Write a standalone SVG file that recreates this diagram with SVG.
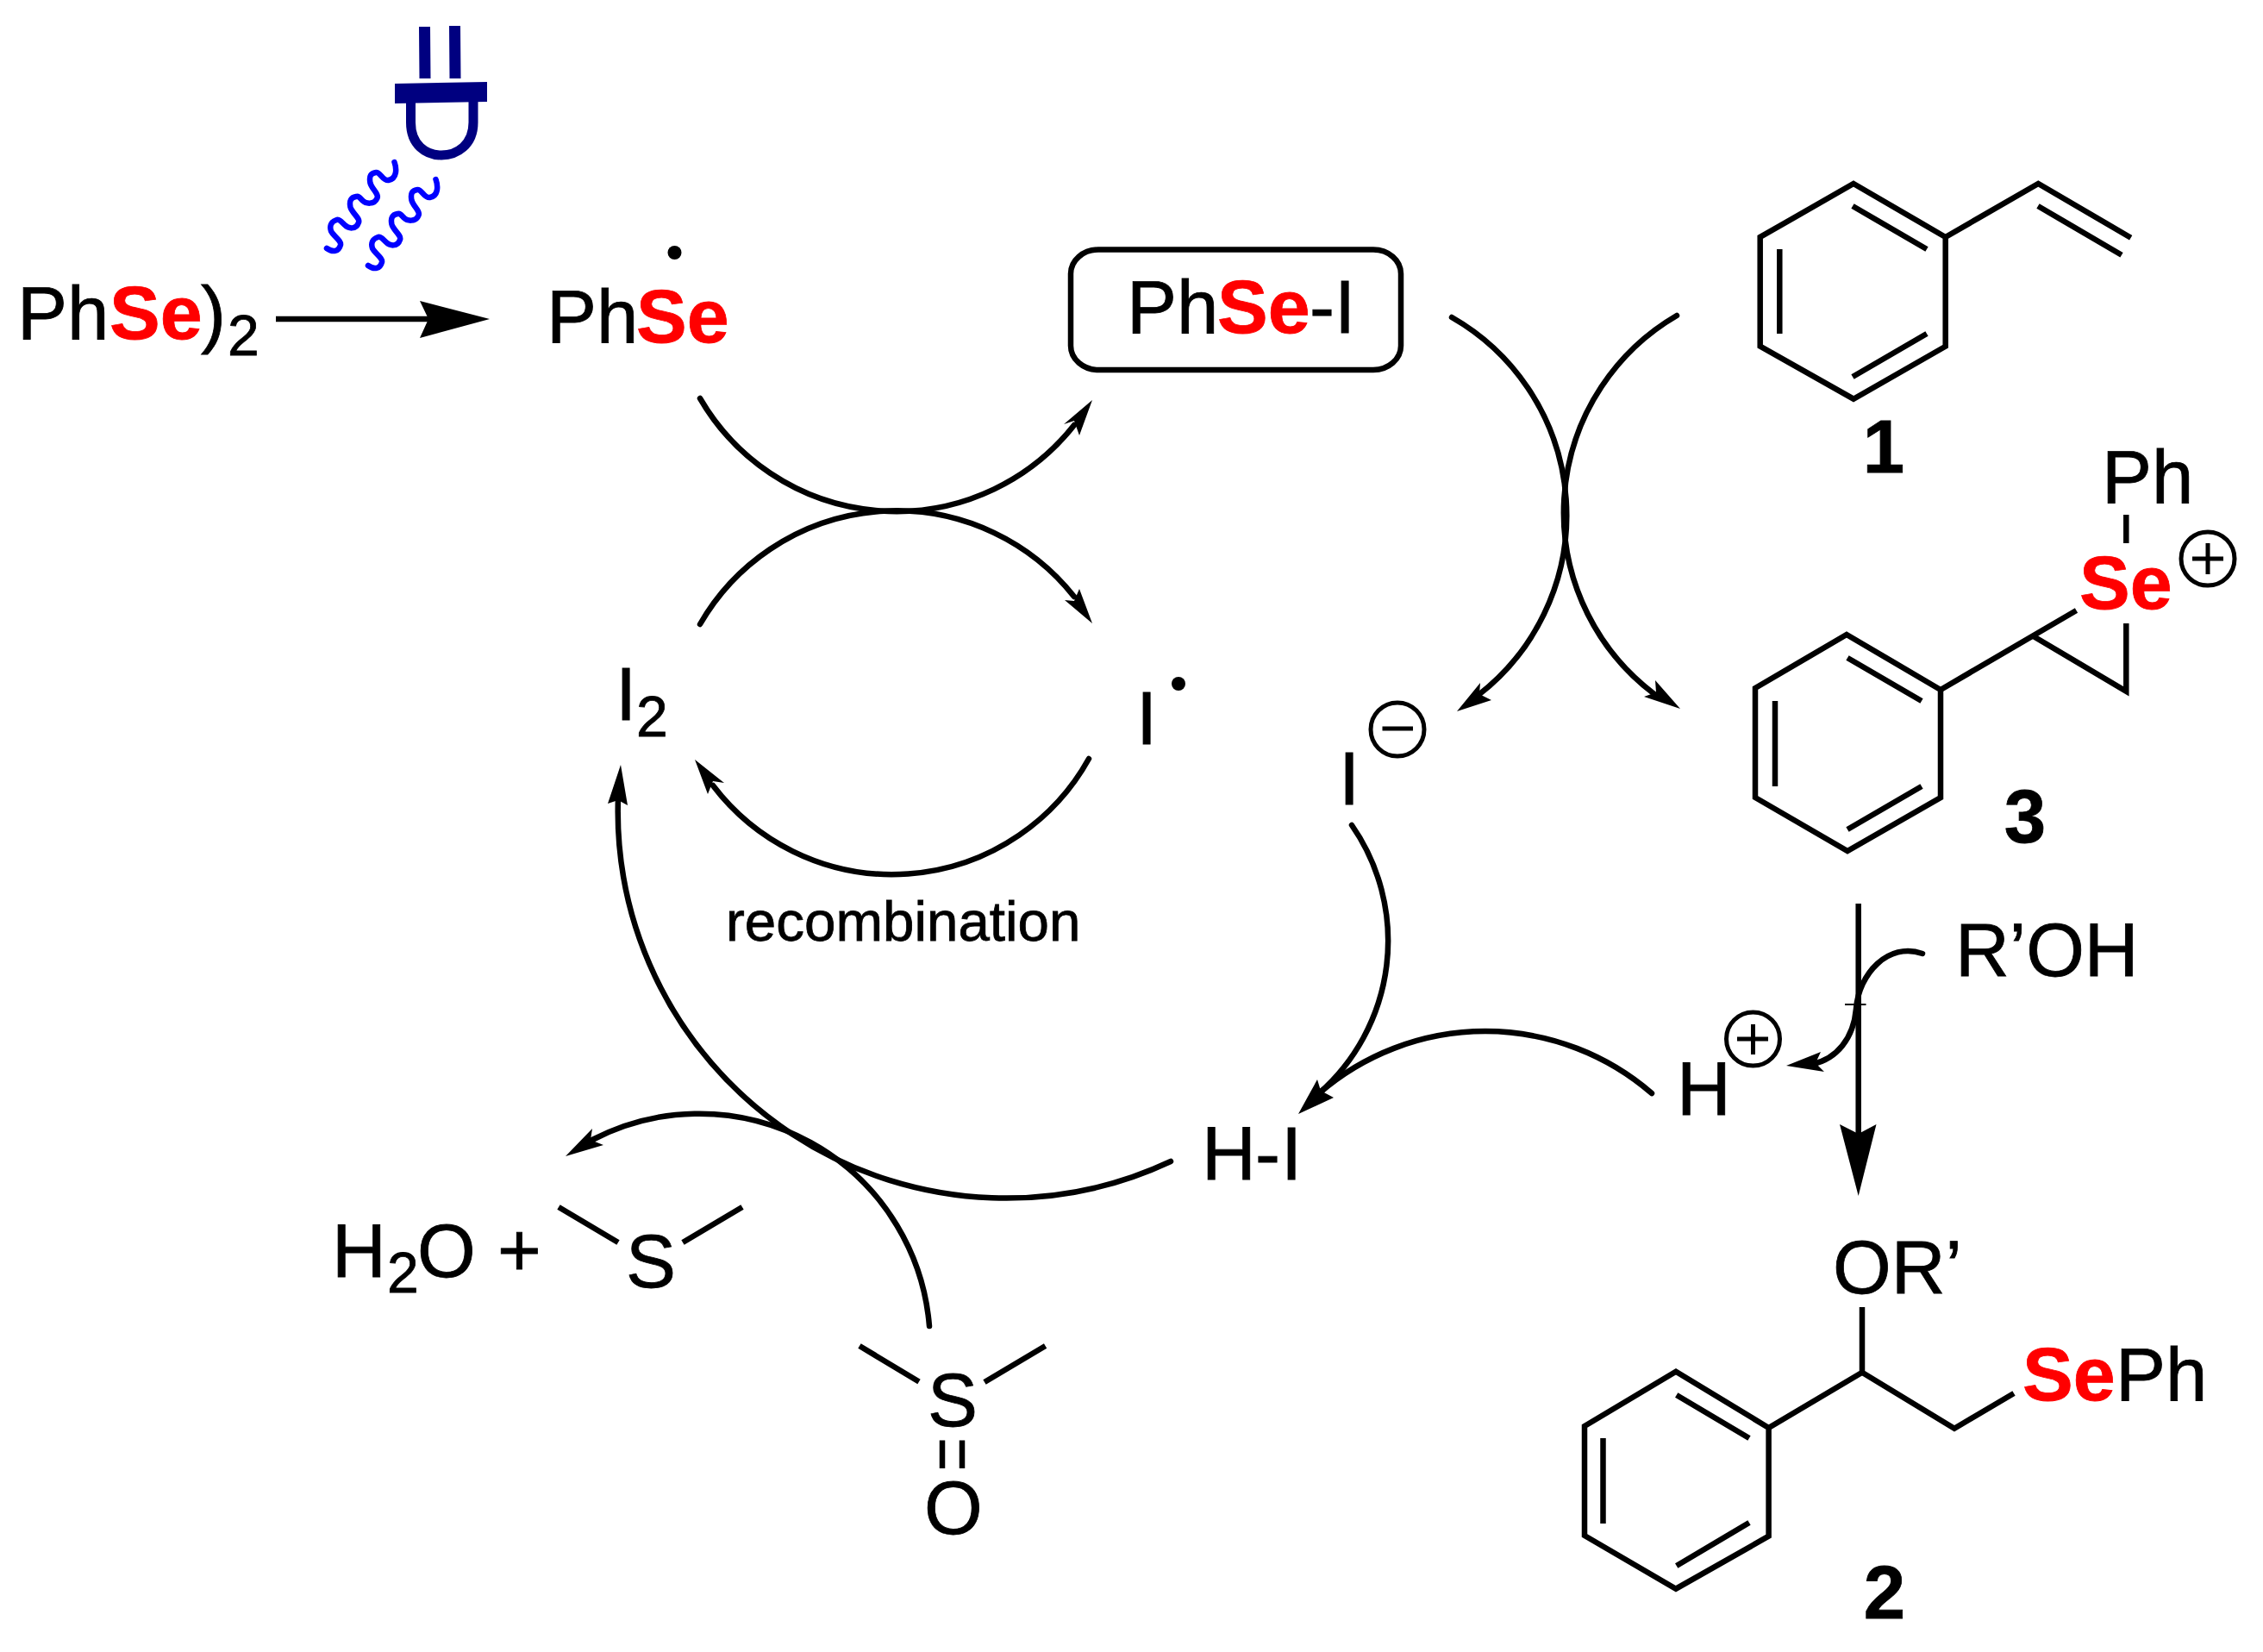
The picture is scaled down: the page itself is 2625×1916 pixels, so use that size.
<svg xmlns="http://www.w3.org/2000/svg" width="2625" height="1916" viewBox="0 0 2625 1916">
<style>
text{font-family:"Liberation Sans",Arial,sans-serif;font-size:87px;fill:#000;stroke:#000;stroke-width:.8}
.sub{font-size:66px}
.se{font-weight:bold;fill:#f00;stroke:#f00;font-size:88px}
.num{font-weight:bold;text-anchor:middle}
.b{fill:none;stroke:#000;stroke-width:6.500;stroke-linejoin:miter}
.c{fill:none;stroke:#000;stroke-width:6.500;stroke-linecap:round}
.h{fill:#000;stroke:none}
.ch{fill:#fff;stroke:#000;stroke-width:5}
.nv{fill:none;stroke:#000080}
.w{fill:none;stroke:#00f;stroke-width:6.500;stroke-linecap:round}
</style>
<rect width="2625" height="1916" fill="#fff"/>
<g id="connectors">
<path class="c" style="stroke-linecap:butt" d="M320,370H500"/><polygon class="h" points="568,370 487,349 497,370 487,392"/>
<path class="c" d="M812,462A263,263 0 0 0 1246,493"/><polygon class="h" points="1267,464 1234,492 1246,488 1252,505"/>
<path class="c" d="M812,724A263,263 0 0 1 1246,692"/><polygon class="h" points="1267,723 1235,696 1246,697 1252,683"/>
<path class="c" d="M1263,880A261,261 0 0 1 827,911"/><polygon class="h" points="806,881 840,908 827,906 821,921"/>
<path class="c" d="M1358,1347A450,449 0 0 1 717,925"/><polygon class="h" points="720,887 705,932 717,928 728,934"/>
<path class="c" d="M1078,1538A268,268 0 0 0 687,1322"/><polygon class="h" points="656,1341 687,1309 685,1322 700,1328"/>
<path class="c" d="M1684,368A264,264 0 0 1 1715,806"/><polygon class="h" points="1690,825 1717,792 1716,805 1730,812"/>
<path class="c" d="M1945,366A264,264 0 0 0 1919,805"/><polygon class="h" points="1949,822 1920,789 1921,803 1907,808"/>
<path class="c" d="M1568,957A235,235 0 0 1 1530,1268"/><polygon class="h" points="1506,1292 1528,1252 1532,1265 1547,1273"/>
<path class="c" d="M1916,1268A295,295 0 0 0 1530,1268"/>
<path class="c" style="stroke-linecap:butt" d="M2155.700,1048V1320"/><polygon class="h" points="2155.700,1387 2134,1304 2155.700,1315 2176.500,1304"/>
<path fill="none" stroke="#000" stroke-width="2" d="M2140,1165H2164.500"/>
<path class="c" d="M2230,1106C2190,1092 2156,1130 2153,1170C2150,1205 2130,1228 2103,1234"/><polygon class="h" points="2072,1236 2112,1220 2106,1233 2116,1243"/>
</g>
<g id="lamp">
<path class="nv" stroke-width="13" d="M492.500,31L493,91M527.500,30L528,91"/>
<path fill="#000080" d="M458,97L565,95V118L458,120Z"/>
<path class="nv" stroke-width="11" d="M476.500,118V142C476.500,168 494,180 512,180C530,180 549,168 549,142V118"/>
<path class="w" d="M457.500,188C460,195 461,207 450.600,209C444,210 441,199 436,200C430,201 428,204 429.400,212C431,219 440,225 437.400,230C434,238 424,236 421,233C418,230 416,227 413,228C407,229 405,233 406.400,240C408,247 418,253 416,258C413,267 404,265 400,261C396,257 393,254 390.400,255C384,257 382,262 384,268C387,274 396,279 395,284C393,292 386,293 379,288"/>
<path class="w" transform="translate(48,20)" d="M457.500,188C460,195 461,207 450.600,209C444,210 441,199 436,200C430,201 428,204 429.400,212C431,219 440,225 437.400,230C434,238 424,236 421,233C418,230 416,227 413,228C407,229 405,233 406.400,240C408,247 418,253 416,258C413,267 404,265 400,261C396,257 393,254 390.400,255C384,257 382,262 384,268C387,274 396,279 395,284C393,292 386,293 379,288"/>
</g>
<g id="diselenide"><text y="393"><tspan x="20">Ph</tspan><tspan class="se" x="127">Se</tspan><tspan x="233">)</tspan><tspan class="sub" x="264" y="412">2</tspan></text></g>
<g id="phse-radical"><text x="634" y="397">Ph<tspan class="se" x="738">Se</tspan></text><ellipse cx="782.500" cy="293" rx="8" ry="8"/></g>
<g id="phsei">
<rect class="b" x="1242" y="289.500" width="383" height="139.500" rx="32" ry="28"/>
<text y="386"><tspan x="1307">Ph</tspan><tspan class="se" x="1412">Se</tspan><tspan x="1519">-</tspan><tspan x="1548">I</tspan></text>
</g>
<g id="compound-1">
<path class="b" d="M2150,213L2256.700,275V401.700L2150,462.700L2041.700,401.700V275Z"/>
<path class="b" d="M2149,239L2235,289M2064.300,289V387M2149,437L2235,387M2256.700,275L2364.300,213L2471.700,275.700M2364,239L2461,295.700"/>
<text class="num" x="2185" y="548">1</text>
</g>
<g id="compound-3">
<path class="b" d="M2142,736L2251,800V925L2143,987L2036,925V798Z"/>
<path class="b" d="M2143,763L2229,813M2059,813V912M2143,962L2229,912M2251,800L2408.500,708M2358.700,738L2466.300,801.700V723M2466.300,597V630"/>
<text x="2438" y="582.700">Ph</text>
<text class="se" x="2412" y="706">Se</text>
<circle class="ch" cx="2561" cy="648" r="31"/><path class="b" style="stroke-width:5" d="M2543,648H2579M2561,630V666"/>
<text class="num" x="2349" y="977">3</text>
</g>
<g id="iodine"><text x="714" y="835">I<tspan class="sub" x="738" y="854">2</tspan></text></g>
<g id="iodine-radical"><text x="1318" y="863">I</text><circle cx="1367" cy="793" r="8"/></g>
<g id="iodide"><text x="1553" y="933">I</text><circle class="ch" cx="1621" cy="846" r="31"/><path class="b" style="stroke-width:5" d="M1603.500,845H1639"/></g>
<g id="recombination"><text x="842" y="1091" style="font-size:65.500px">recombination</text></g>
<g id="hi"><text y="1368"><tspan x="1394">H</tspan><tspan x="1456">-</tspan><tspan x="1486">I</tspan></text></g>
<g id="proton"><text x="1945" y="1293">H</text><circle class="ch" cx="2033.500" cy="1205" r="31"/><path class="b" style="stroke-width:5" d="M2015,1205H2051M2033.500,1188V1223"/></g>
<g id="roh"><text x="2268" y="1132">R’OH</text></g>
<g id="compound-2">
<text x="2126" y="1500">OR’</text>
<path class="b" d="M1944,1590.700L2051.600,1656V1781.700L1944,1842.700L1838,1781V1654Z"/>
<path class="b" d="M1944.700,1618L2029,1668M1859.500,1668V1767M1944.700,1816L2029,1766M2051.600,1656L2160,1591.700L2267,1656.700L2336,1616M2160,1516V1591.700"/>
<text y="1624"><tspan class="se" x="2346">Se</tspan><tspan x="2454">Ph</tspan></text>
<text class="num" x="2186" y="1877">2</text>
</g>
<g id="dms">
<text x="385" y="1480.500">H<tspan class="sub" x="449" y="1498.500">2</tspan><tspan x="484" y="1480.500">O</tspan></text>
<text x="577" y="1480">+</text>
<path class="b" d="M648,1400L717,1441M861,1400L792,1441"/>
<text x="726" y="1493">S</text>
</g>
<g id="dmso">
<path class="b" d="M997,1561L1066,1602.500M1212.600,1561L1142,1603M1093,1670.500V1703M1116,1670.500V1703"/>
<text x="1076" y="1654">S</text>
<text x="1072" y="1779">O</text>
</g>
</svg>
